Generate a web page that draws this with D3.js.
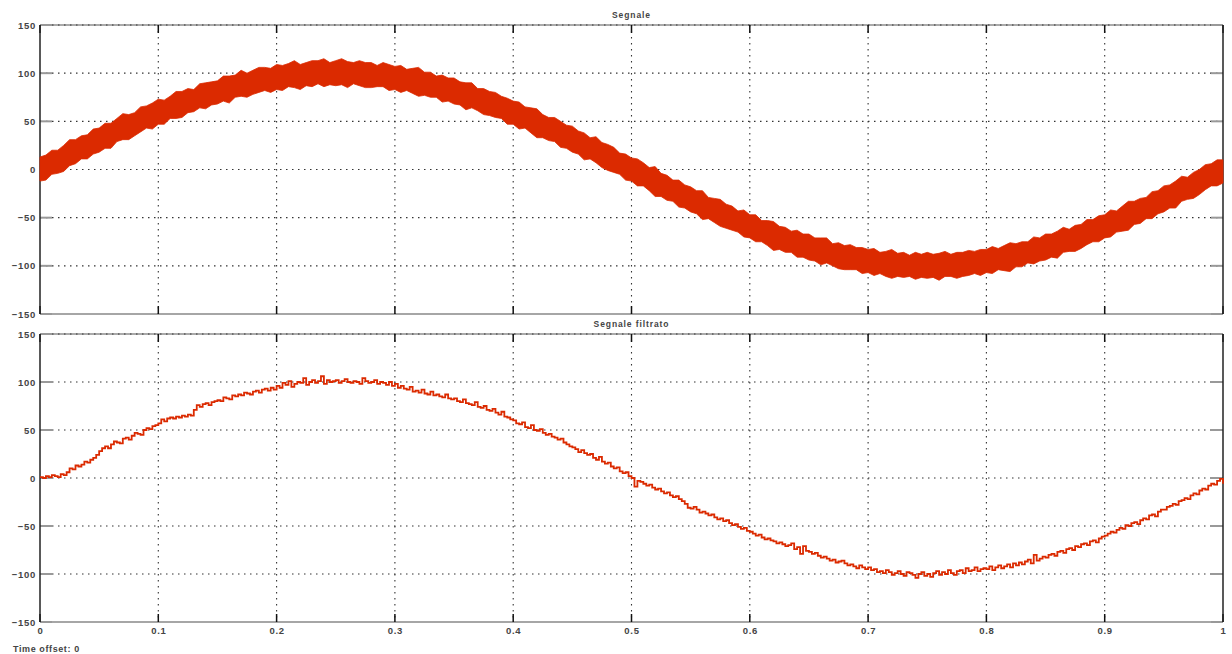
<!DOCTYPE html>
<html>
<head>
<meta charset="utf-8">
<script src="https://cdn.jsdelivr.net/npm/d3@7"></script>
<style>
  body { margin: 0; background: #fff; }
  text { font-family: "Liberation Sans", Arial, sans-serif; }
</style>
</head>
<body>
<svg id="chart" width="1232" height="654"></svg>
<script>
// x ticks (seconds) and y ticks shared by both scopes
const xTicks = [0, 0.1, 0.2, 0.3, 0.4, 0.5, 0.6, 0.7, 0.8, 0.9, 1];
const xTickLabels = ["0", "0.1", "0.2", "0.3", "0.4", "0.5", "0.6", "0.7", "0.8", "0.9", "1"];
const yTicks = [-150, -100, -50, 0, 50, 100, 150];
const panelTitles = ["Segnale", "Segnale filtrato"];

// Segnale: noisy band, upper / lower edge read every 0.005 s
const rawStep = 0.005;
const rawUpper = [
  13, 15, 20, 20, 25, 31, 31, 35, 36, 42,
  43, 48, 48, 53, 58, 57, 59, 65, 66, 69,
  73, 72, 76, 81, 81, 84, 83, 89, 90, 91,
  92, 97, 97, 98, 103, 100, 103, 106, 106, 105,
  109, 108, 110, 113, 109, 111, 113, 113, 115, 111,
  113, 115, 112, 111, 113, 111, 111, 108, 111, 109,
  107, 108, 104, 105, 106, 101, 101, 97, 98, 95,
  95, 91, 90, 90, 84, 84, 81, 80, 76, 74,
  71, 70, 65, 64, 63, 57, 54, 54, 50, 46,
  45, 40, 38, 33, 34, 28, 26, 23, 17, 16,
  12, 11, 7, 2, 3, -4, -6, -11, -11, -16,
  -18, -22, -22, -29, -30, -31, -36, -38, -43, -42,
  -47, -47, -53, -53, -54, -59, -60, -64, -63, -67,
  -67, -71, -71, -71, -77, -76, -79, -78, -81, -81,
  -83, -82, -86, -85, -83, -87, -86, -89, -86, -88,
  -86, -88, -87, -85, -88, -86, -86, -84, -85, -83,
  -83, -80, -82, -79, -76, -77, -75, -75, -70, -71,
  -67, -67, -64, -60, -62, -58, -57, -52, -52, -48,
  -47, -42, -43, -38, -33, -33, -30, -29, -23, -22,
  -17, -16, -12, -7, -8, -3, 0, 5, 6, 10,
  10
];
const rawLower = [
  -12, -11, -5, -4, -2, 4, 6, 11, 11, 16,
  18, 22, 22, 29, 31, 31, 35, 39, 43, 42,
  47, 47, 53, 53, 54, 59, 60, 64, 63, 67,
  68, 71, 69, 75, 76, 75, 78, 80, 82, 80,
  83, 82, 86, 85, 83, 87, 86, 89, 86, 88,
  87, 88, 85, 89, 87, 85, 85, 86, 86, 82,
  83, 80, 82, 79, 76, 77, 75, 75, 70, 71,
  68, 67, 62, 64, 61, 57, 56, 54, 53, 47,
  47, 42, 43, 38, 33, 33, 30, 29, 23, 22,
  18, 16, 10, 11, 7, 2, -1, -3, -5, -11,
  -12, -17, -17, -22, -28, -28, -32, -33, -39, -40,
  -44, -46, -52, -51, -55, -59, -61, -63, -65, -70,
  -71, -75, -75, -79, -84, -83, -86, -86, -91, -91,
  -94, -95, -99, -97, -100, -103, -104, -104, -104, -108,
  -107, -110, -108, -111, -113, -111, -112, -111, -114, -112,
  -113, -112, -115, -111, -111, -113, -111, -110, -108, -110,
  -107, -108, -104, -105, -106, -101, -101, -97, -98, -95,
  -94, -91, -92, -86, -85, -85, -82, -78, -75, -75,
  -71, -70, -65, -64, -63, -57, -56, -51, -51, -46,
  -44, -40, -40, -33, -31, -30, -26, -21, -17, -17,
  -14
];

// Segnale filtrato: one value every 0.0025 s
const filtStep = 0.0025;
const filtered = [
  1, 0, 2, 1, 3, 2, 1, 4, 3, 6, 10, 9, 13, 12, 14, 17, 16, 19, 21, 24,
  28, 31, 33, 31, 35, 38, 37, 36, 41, 42, 40, 44, 47, 46, 45, 50, 52, 51, 54, 55,
  57, 61, 59, 62, 63, 62, 64, 63, 65, 64, 66, 65, 71, 76, 74, 77, 78, 76, 79, 80,
  81, 80, 84, 83, 82, 86, 85, 87, 86, 89, 88, 87, 90, 91, 89, 92, 93, 91, 94, 92,
  96, 94, 99, 97, 101, 95, 98, 100, 99, 104, 97, 100, 102, 99, 101, 106, 98, 102, 100, 101,
  102, 99, 101, 103, 100, 99, 101, 100, 98, 104, 101, 99, 100, 102, 98, 100, 99, 97, 100, 96,
  98, 94, 96, 93, 92, 95, 90, 91, 89, 92, 88, 87, 90, 86, 87, 85, 84, 87, 83, 82,
  83, 80, 79, 82, 78, 77, 76, 79, 74, 73, 75, 71, 70, 72, 68, 66, 69, 64, 63, 61,
  60, 57, 56, 58, 53, 52, 55, 50, 49, 51, 47, 45, 46, 43, 42, 40, 41, 37, 35, 33,
  32, 30, 27, 29, 26, 24, 25, 21, 19, 22, 17, 15, 16, 12, 10, 11, 7, 5, 6, 2,
  0, -9, -3, -4, -6, -8, -7, -10, -12, -11, -14, -16, -15, -18, -20, -19, -22, -24, -27, -31,
  -32, -30, -33, -36, -35, -37, -39, -38, -41, -43, -42, -45, -44, -47, -49, -48, -51, -53, -52, -55,
  -56, -58, -60, -59, -62, -64, -63, -65, -66, -68, -67, -69, -71, -70, -68, -74, -72, -79, -71, -76,
  -77, -79, -78, -81, -83, -82, -84, -86, -85, -88, -87, -86, -89, -91, -90, -92, -94, -91, -93, -95,
  -93, -96, -95, -98, -97, -99, -96, -98, -101, -99, -97, -100, -102, -98, -99, -101, -104, -100, -98, -102,
  -100, -103, -99, -97, -101, -98, -100, -96, -99, -101, -97, -96, -99, -94, -97, -96, -93, -97, -95, -94,
  -95, -92, -96, -93, -91, -94, -92, -90, -93, -89, -91, -88, -90, -87, -85, -89, -80, -86, -84, -82,
  -83, -80, -79, -81, -77, -76, -78, -74, -73, -75, -71, -72, -69, -68, -70, -66, -65, -67, -63, -61,
  -60, -58, -56, -57, -54, -52, -53, -49, -50, -47, -46, -48, -44, -42, -43, -39, -38, -40, -35, -33,
  -33, -30, -29, -27, -28, -24, -23, -21, -22, -18, -16, -17, -13, -11, -12, -8, -6, -7, -3, -1,
  -6
];

const svg = d3.select("#chart");
const left = 40, right = 1223;
const panels = [{ top: 25, bottom: 314 }, { top: 334, bottom: 622 }];
const red = "#db2a00";
const labelStyle = sel => sel
  .attr("font-size", 9.5).attr("font-weight", "bold").attr("letter-spacing", 0.7)
  .attr("fill", "#444").attr("font-family", "Liberation Sans, Arial, sans-serif");

const x = d3.scaleLinear().domain([0, 1]).range([left, right]);

function drawPanel(p, idx) {
  const y = d3.scaleLinear().domain([-150, 150]).range([p.bottom, p.top]);
  const g = svg.append("g");

  // grey top / bottom frame
  g.append("line").attr("x1", left).attr("x2", right).attr("y1", p.top).attr("y2", p.top)
    .attr("stroke", "#aaa").attr("stroke-width", 2);
  g.append("line").attr("x1", left).attr("x2", right).attr("y1", p.bottom).attr("y2", p.bottom)
    .attr("stroke", "#888").attr("stroke-width", 1.5);

  // dotted grid
  g.append("g").selectAll("line").data(yTicks.filter(d => d > -150)).enter().append("line")
    .attr("x1", left).attr("x2", right)
    .attr("y1", d => y(d)).attr("y2", d => y(d))
    .attr("stroke", "#333").attr("stroke-width", 1.1)
    .attr("stroke-dasharray", "1.5,4.5");
  g.append("g").selectAll("line").data(xTicks.slice(1, -1)).enter().append("line")
    .attr("x1", d => x(d)).attr("x2", d => x(d))
    .attr("y1", p.top).attr("y2", p.bottom)
    .attr("stroke", "#333").attr("stroke-width", 1.1)
    .attr("stroke-dasharray", "1.5,4.5");

  // y tick marks, grey, left and right
  g.append("g").selectAll("line").data(yTicks).enter().append("line")
    .attr("x1", left).attr("x2", left + 12)
    .attr("y1", d => y(d)).attr("y2", d => y(d))
    .attr("stroke", "#999").attr("stroke-width", 2);
  g.append("g").selectAll("line").data(yTicks).enter().append("line")
    .attr("x1", right - 12).attr("x2", right)
    .attr("y1", d => y(d)).attr("y2", d => y(d))
    .attr("stroke", "#999").attr("stroke-width", 2);

  // x tick marks, black, top and bottom
  g.append("g").selectAll("line").data(xTicks).enter().append("line")
    .attr("x1", d => x(d)).attr("x2", d => x(d))
    .attr("y1", p.top).attr("y2", p.top + 8)
    .attr("stroke", "#111").attr("stroke-width", 1.5);
  g.append("g").selectAll("line").data(xTicks).enter().append("line")
    .attr("x1", d => x(d)).attr("x2", d => x(d))
    .attr("y1", p.bottom - 8).attr("y2", p.bottom)
    .attr("stroke", "#111").attr("stroke-width", 1.5);

  // left / right black edges
  g.append("line").attr("x1", left).attr("x2", left).attr("y1", p.top).attr("y2", p.bottom)
    .attr("stroke", "#222").attr("stroke-width", 1.5);
  g.append("line").attr("x1", right).attr("x2", right).attr("y1", p.top).attr("y2", p.bottom)
    .attr("stroke", "#222").attr("stroke-width", 1.5);

  // y labels
  const yAxis = d3.axisLeft(y).tickValues(yTicks).tickSize(0).tickPadding(4);
  const ya = g.append("g").attr("transform", `translate(${left},0)`).call(yAxis);
  ya.select(".domain").remove();
  ya.selectAll("text").call(labelStyle);

  // title
  g.append("text").attr("x", (left + right) / 2).attr("y", p.top - 7)
    .attr("text-anchor", "middle").text(panelTitles[idx])
    .call(labelStyle).attr("font-size", 8.5).attr("letter-spacing", 0.9);

  return y;
}

const yTop = drawPanel(panels[0], 0);
const yBot = drawPanel(panels[1], 1);

// Segnale: band
const band = d3.area()
  .x((d, i) => x(i * rawStep))
  .y0((d, i) => yTop(rawLower[i]))
  .y1((d, i) => yTop(rawUpper[i]));
svg.append("path").datum(rawUpper)
  .attr("d", band)
  .attr("fill", red).attr("stroke", red).attr("stroke-width", 0.8);

// Segnale filtrato: line
const line = d3.line()
  .x((d, i) => x(i * filtStep))
  .y(d => yBot(d))
  .curve(d3.curveStepAfter);
svg.append("path").datum(filtered)
  .attr("d", line)
  .attr("fill", "none").attr("stroke", red).attr("stroke-width", 1.8);

// x labels under the lower scope
const xAxis = d3.axisBottom(x).tickValues(xTicks)
  .tickFormat((d, i) => xTickLabels[i]).tickSize(0).tickPadding(5);
const xa = svg.append("g").attr("transform", `translate(0,${panels[1].bottom})`).call(xAxis);
xa.select(".domain").remove();
xa.selectAll("text").call(labelStyle);

svg.append("text").attr("x", 13).attr("y", 652)
  .text("Time offset: 0")
  .call(labelStyle).attr("font-size", 9).attr("letter-spacing", 0.6);
</script>
</body>
</html>
